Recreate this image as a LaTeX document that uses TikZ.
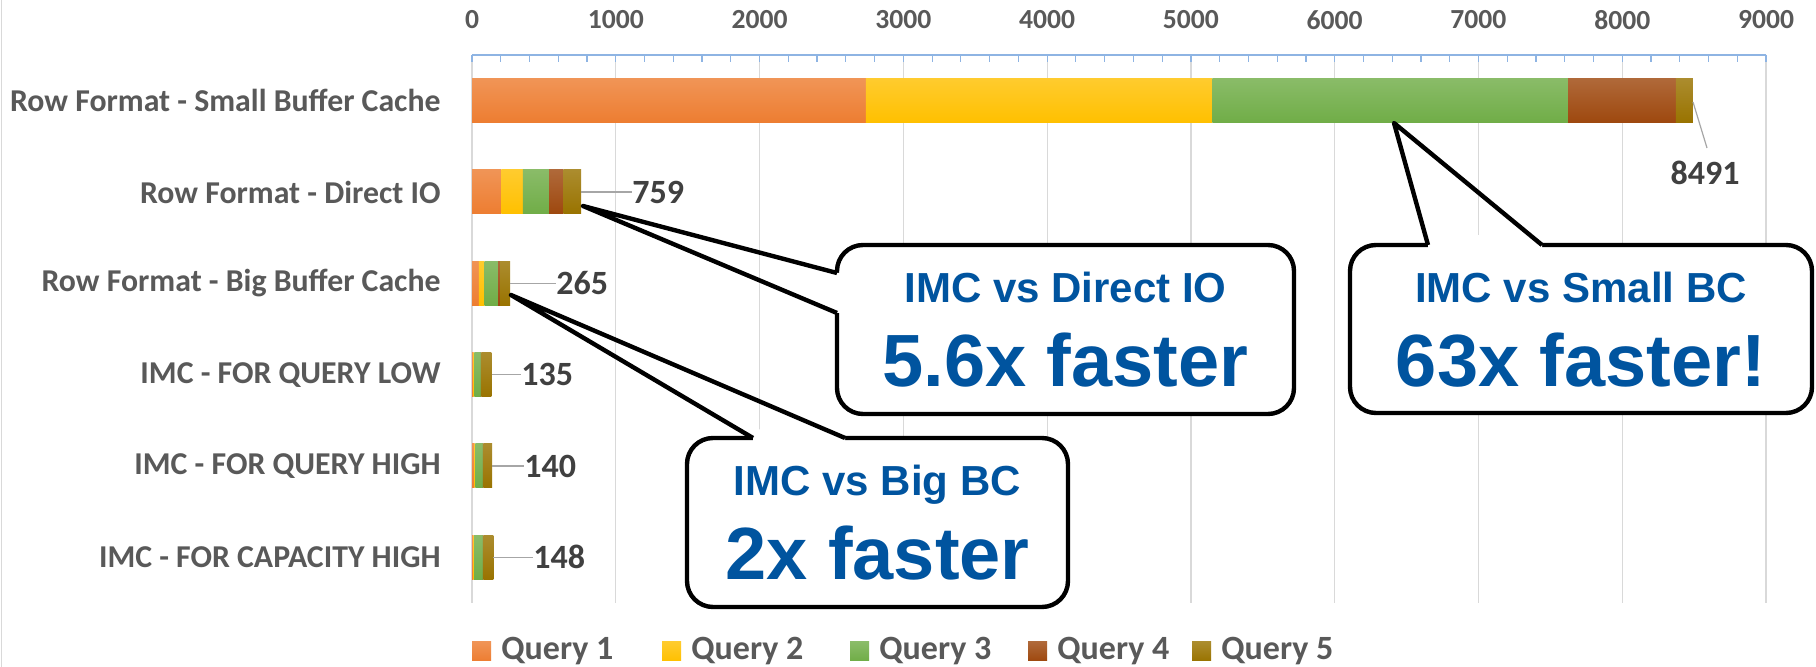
\documentclass[tikz,border=0pt]{standalone}
\usepackage{fontspec}
\setmainfont{Carlito}
\newfontfamily\callfont{Liberation Sans}
\usetikzlibrary{calc}
\definecolor{qone}{HTML}{ED7D31}
\definecolor{qtwo}{HTML}{FFC000}
\definecolor{qthree}{HTML}{70AD47}
\definecolor{qfour}{HTML}{9E480E}
\definecolor{qfive}{HTML}{997300}
\definecolor{txtgray}{HTML}{595959}
\definecolor{valgray}{HTML}{404040}
\definecolor{gridgray}{HTML}{D9D9D9}
\definecolor{axisblue}{HTML}{8EB4E3}
\definecolor{leadgray}{HTML}{A6A6A6}
\definecolor{imcblue}{HTML}{00549F}
\newcommand\bseg[4]{\shade[top color=#4!82!white, bottom color=#4] ({472+0.14378*(#2)},{#1-22}) rectangle ({472+0.14378*(#3)},{#1+22});}
\newcommand\brow[7]{%
  \bseg{#1}{#2}{#3}{qone}\bseg{#1}{#3}{#4}{qtwo}\bseg{#1}{#4}{#5}{qthree}%
  \bseg{#1}{#5}{#6}{qfour}\bseg{#1}{#6}{#7}{qfive}}
\begin{document}
\begin{tikzpicture}[x=0.5pt,y=-0.5pt,
  cat/.style={anchor=east, inner sep=0pt, text=txtgray, font=\fontsize{15.9}{19}\selectfont\bfseries},
  ticklab/.style={inner sep=0pt, text=txtgray, font=\fontsize{13.8}{16}\selectfont\bfseries},
  val/.style={anchor=west, inner sep=0pt, text=valgray, font=\fontsize{17}{20}\selectfont\bfseries},
  leg/.style={anchor=west, inner sep=0pt, text=txtgray, font=\fontsize{17}{20}\selectfont\bfseries},
  legsq/.style={minimum size=9.5pt, inner sep=0pt},
  lead/.style={draw=leadgray, line width=0.6pt},
  callbox/.style={draw=black, line width=2.2pt, fill=white, rounded corners=13pt, inner sep=0pt},
  ptr/.style={draw=black, line width=2.2pt, line join=round},
  sub/.style={anchor=base, inner sep=0pt, text=imcblue, font=\callfont\bfseries\fontsize{21}{25}\selectfont},
  big/.style={anchor=base, inner sep=0pt, text=imcblue, font=\callfont\bfseries\fontsize{37}{44}\selectfont}]
\useasboundingbox (0,0) rectangle (1816,667);
\fill[white] (0,0) rectangle (1816,667);
\draw[gridgray, line width=0.5pt] (1,0) -- (1,667);
% grid
\foreach \k in {0,...,9} {\draw[gridgray, line width=0.6pt] ({472+143.78*\k},55) -- ({472+143.78*\k},603);}
% axis
\draw[axisblue, line width=0.75pt] (472,55) -- (1766,55);
\foreach \j in {0,...,45} {\draw[axisblue, line width=0.6pt] ({472+28.756*\j},55) -- ({472+28.756*\j},62);}
\foreach \k/\lab in {0/0,1/1000,2/2000,3/3000,4/4000,5/5000,6/6000,7/7000,8/8000,9/9000}
  {\node[ticklab] (t\k) at ({472+143.78*\k},20) {\lab};}
% category labels
\node[cat] (c1) at (441,100.7) {Row Format - Small Buffer Cache};
\node[cat] (c2) at (441,192) {Row Format - Direct IO};
\node[cat] (c3) at (441,283.3) {Row Format - Big Buffer Cache};
\node[cat] (c4) at (441,374.6) {IMC - FOR QUERY LOW};
\node[cat] (c5) at (441,466) {IMC - FOR QUERY HIGH};
\node[cat] (c6) at (441,557.3) {IMC - FOR CAPACITY HIGH};
% bars
\brow{100.7}{0}{2740}{5149}{7623}{8372}{8491}
\brow{192}{0}{205}{353}{536}{637}{759}
\brow{283.3}{0}{47}{87}{182}{195}{265}
\brow{374.6}{0}{12}{17}{62}{67}{135}
\brow{466}{0}{18}{23}{75}{80}{140}
\brow{557.3}{0}{12}{15}{75}{80}{148}
% data labels
\coordinate (e1) at (1693,102); \coordinate (l1) at (1707,148);
\node[inner sep=0pt, text=valgray, font=\fontsize{17}{20}\selectfont\bfseries] (v1) at (1705,173) {8491};
\draw[lead] (e1) -- (l1);
\coordinate (e2) at (581,192); \node[val] (v2) at (632,192) {759}; \draw[lead] (e2) -- (v2.west);
\coordinate (e3) at (510,283.3); \node[val] (v3) at (556,283.3) {265}; \draw[lead] (e3) -- (v3.west);
\coordinate (e4) at (491.5,374.6); \node[val] (v4) at (521,374.6) {135}; \draw[lead] (e4) -- (v4.west);
\coordinate (e5) at (492.2,466); \node[val] (v5) at (524,466) {140}; \draw[lead] (e5) -- (v5.west);
\coordinate (e6) at (493.3,557.3); \node[val] (v6) at (533,557.3) {148}; \draw[lead] (e6) -- (v6.west);
% legend
\foreach \i/\c/\x in {1/qone/472,2/qtwo/662,3/qthree/850,4/qfour/1028,5/qfive/1192} {
  \node[legsq, top color=\c!82!white, bottom color=\c] (s\i) at ({\x+9.5},651.5) {};
  \node[leg] (g\i) at ({\x+29},651.5) {Query \i};
}
% callout A: small BC
\node[callbox, minimum width=231pt, minimum height=84pt] (bA) at (1581,329) {};
\coordinate (tipA) at (1394,123); \coordinate (a1) at (1428,245); \coordinate (a2) at (1542,245);
\fill[white] (a1) -- ($(a1)!0.08!(tipA)$) -- ($(a2)!0.08!(tipA)$) -- (a2) -- ($(a2)+(0,4)$) -- ($(a1)+(0,4)$) -- cycle;
\draw[ptr] (a1) -- (tipA) -- (a2);
\node[sub] (sA) at (1581,303) {IMC vs Small BC};
\node[big] (mA) at (1581,387) {63x faster!};
% callout B: direct IO
\node[callbox, minimum width=228.5pt, minimum height=84.5pt] (bB) at (1065.5,329.5) {};
\coordinate (tipB) at (583,206); \coordinate (b1) at (837,273); \coordinate (b2) at (837,313);
\fill[white] (b1) -- ($(b1)!0.06!(tipB)$) -- ($(b2)!0.06!(tipB)$) -- (b2) -- ($(b2)+(4,0)$) -- ($(b1)+(4,0)$) -- cycle;
\draw[ptr] (b1) -- (tipB) -- (b2);
\node[sub] (sB) at (1065.5,303) {IMC vs Direct IO};
\node[big] (mB) at (1065.5,387) {5.6x faster};
% callout C: big BC
\node[callbox, minimum width=190.5pt, minimum height=84.5pt] (bC) at (877.5,522.5) {};
\coordinate (tipC) at (511,295); \coordinate (c1p) at (753,438); \coordinate (c2p) at (845,438);
\fill[white] (c1p) -- ($(c1p)!0.06!(tipC)$) -- ($(c2p)!0.06!(tipC)$) -- (c2p) -- ($(c2p)+(0,4)$) -- ($(c1p)+(0,4)$) -- cycle;
\draw[ptr] (c1p) -- (tipC) -- (c2p);
\node[sub] (sC) at (877.5,496) {IMC vs Big BC};
\node[big] (mC) at (877.5,580) {2x faster};
\end{tikzpicture}
\end{document}
